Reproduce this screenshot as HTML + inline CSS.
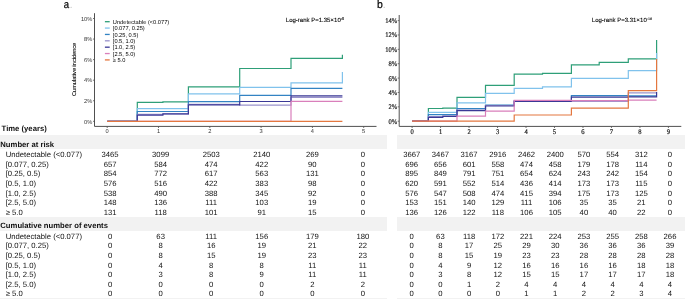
<!DOCTYPE html>
<html><head><meta charset="utf-8"><style>
html,body{margin:0;padding:0;background:#fff;width:685px;height:299px;overflow:hidden}
svg{position:absolute;left:0;top:0;display:block;will-change:transform}
text{font-family:"Liberation Sans",sans-serif;text-rendering:geometricPrecision}
.sf{font-family:"Liberation Serif",serif}
</style></head><body>
<svg width="685" height="299" viewBox="0 0 685 299">

<rect x="0" y="135" width="387" height="14" fill="#f2f2f2"/>
<rect x="397" y="135" width="288" height="14" fill="#f2f2f2"/>
<rect x="0" y="217" width="387" height="14" fill="#f2f2f2"/>
<rect x="397" y="217" width="288" height="14" fill="#f2f2f2"/>
<rect x="0" y="298" width="387" height="1" fill="#f2f2f2"/>
<rect x="397" y="298" width="288" height="1" fill="#f2f2f2"/>
<text transform="translate(63.8,7.9) scale(0.87,1)" font-size="11" fill="#000" stroke="#000" stroke-width="0.2">a</text><circle cx="71.1" cy="7.2" r="0.55" fill="#aaa"/>
<path d="M94.5 13.2V126.4H376.5" fill="none" stroke="#505050" stroke-width="1"/>
<path d="M93.0 121.30H94.5" stroke="#505050" stroke-width="0.8"/>
<text x="92.3" y="123.50" font-size="5.7" text-anchor="end" fill="#333">0%</text>
<path d="M93.0 100.74H94.5" stroke="#505050" stroke-width="0.8"/>
<text x="92.3" y="102.94" font-size="5.7" text-anchor="end" fill="#333">2%</text>
<path d="M93.0 80.18H94.5" stroke="#505050" stroke-width="0.8"/>
<text x="92.3" y="82.38" font-size="5.7" text-anchor="end" fill="#333">4%</text>
<path d="M93.0 59.62H94.5" stroke="#505050" stroke-width="0.8"/>
<text x="92.3" y="61.82" font-size="5.7" text-anchor="end" fill="#333">6%</text>
<path d="M93.0 39.06H94.5" stroke="#505050" stroke-width="0.8"/>
<text x="92.3" y="41.26" font-size="5.7" text-anchor="end" fill="#333">8%</text>
<path d="M93.0 18.50H94.5" stroke="#505050" stroke-width="0.8"/>
<text x="92.3" y="20.70" font-size="5.7" text-anchor="end" fill="#333">10%</text>
<path d="M107.20 126.4V128.0" stroke="#505050" stroke-width="0.8"/>
<text x="107.20" y="133.2" font-size="5.7" text-anchor="middle" fill="#333">0</text>
<path d="M158.50 126.4V128.0" stroke="#505050" stroke-width="0.8"/>
<text x="158.50" y="133.2" font-size="5.7" text-anchor="middle" fill="#333">1</text>
<path d="M209.80 126.4V128.0" stroke="#505050" stroke-width="0.8"/>
<text x="209.80" y="133.2" font-size="5.7" text-anchor="middle" fill="#333">2</text>
<path d="M261.10 126.4V128.0" stroke="#505050" stroke-width="0.8"/>
<text x="261.10" y="133.2" font-size="5.7" text-anchor="middle" fill="#333">3</text>
<path d="M312.40 126.4V128.0" stroke="#505050" stroke-width="0.8"/>
<text x="312.40" y="133.2" font-size="5.7" text-anchor="middle" fill="#333">4</text>
<path d="M363.70 126.4V128.0" stroke="#505050" stroke-width="0.8"/>
<text x="363.70" y="133.2" font-size="5.7" text-anchor="middle" fill="#333">5</text>
<text transform="translate(76,69.4) rotate(-90)" font-size="5.6" text-anchor="middle" fill="#000" stroke="#000" stroke-width="0.08">Cumulative incidence</text>
<text x="285.8" y="21.6" font-size="6.0" fill="#000" stroke="#000" stroke-width="0.1">Log-rank P=1.35<tspan font-size="6.4">×</tspan>10<tspan font-size="3.8" dy="-1.6">-5</tspan></text>
<path d="M104.9 21.70H109.7" stroke="#2e9f78" stroke-width="1.3"/>
<text x="112.8" y="23.80" font-size="5.7" fill="#000">Undetectable (&lt;0.077)</text>
<path d="M104.9 28.07H109.7" stroke="#80c2ec" stroke-width="1.3"/>
<text x="112.8" y="30.17" font-size="5.7" fill="#000">[0.077, 0.25)</text>
<path d="M104.9 34.44H109.7" stroke="#3383c3" stroke-width="1.3"/>
<text x="112.8" y="36.54" font-size="5.7" fill="#000">[0.25, 0.5)</text>
<path d="M104.9 40.81H109.7" stroke="#9a93cc" stroke-width="1.3"/>
<text x="112.8" y="42.91" font-size="5.7" fill="#000">[0.5, 1.0)</text>
<path d="M104.9 47.18H109.7" stroke="#3b3896" stroke-width="1.3"/>
<text x="112.8" y="49.28" font-size="5.7" fill="#000">[1.0, 2.5)</text>
<path d="M104.9 53.55H109.7" stroke="#d97fbb" stroke-width="1.3"/>
<text x="112.8" y="55.65" font-size="5.7" fill="#000">[2.5, 5.0)</text>
<path d="M104.9 59.92H109.7" stroke="#e4773f" stroke-width="1.3"/>
<text x="112.8" y="62.02" font-size="5.7" fill="#000">≥ 5.0</text>
<path d="M107.20 121.30H137.30V102.30H162.90V101.80H188.40V86.80H239.70V68.50H291.00V58.40H342.40V54.80" fill="none" stroke="#2e9f78" stroke-width="1.2" stroke-linejoin="miter"/>
<path d="M107.20 121.30H137.30V108.60H162.90V108.60H188.40V93.90H239.70V87.40H291.00V82.90H342.40V72.00" fill="none" stroke="#80c2ec" stroke-width="1.2" stroke-linejoin="miter"/>
<path d="M107.20 121.30H137.30V111.50H162.90V111.50H188.40V101.60H239.70V95.30H291.00V88.40H342.40V88.40" fill="none" stroke="#3383c3" stroke-width="1.2" stroke-linejoin="miter"/>
<path d="M107.20 121.30H137.30V114.30H162.90V114.00H188.40V104.30H239.70V105.10H291.00V97.30H342.40V97.30" fill="none" stroke="#9a93cc" stroke-width="1.2" stroke-linejoin="miter"/>
<path d="M107.20 121.30H137.30V115.10H162.90V113.80H188.40V104.80H239.70V101.50H291.00V95.90H342.40V95.90" fill="none" stroke="#3b3896" stroke-width="1.2" stroke-linejoin="miter"/>
<path d="M107.20 121.30H137.30V121.30H162.90V121.30H188.40V121.30H239.70V121.30H291.00V101.40H342.40V101.40" fill="none" stroke="#d97fbb" stroke-width="1.2" stroke-linejoin="miter"/>
<path d="M107.20 121.30H137.30V121.30H162.90V121.30H188.40V121.30H239.70V121.30H291.00V121.30H342.40V121.30" fill="none" stroke="#e4773f" stroke-width="1.2" stroke-linejoin="miter"/>
<text transform="translate(376.9,7.9) scale(0.95,1)" font-size="11" fill="#000" stroke="#000" stroke-width="0.2">b</text><circle cx="384.2" cy="7.2" r="0.55" fill="#aaa"/>
<path d="M399.2 15.0V126.4H681.3" fill="none" stroke="#505050" stroke-width="1"/>
<path d="M397.7 121.20H399.2" stroke="#505050" stroke-width="0.8"/>
<text class="sf" transform="translate(397.2,123.65) scale(0.93,1)" font-size="7.05" text-anchor="end" fill="#111" stroke="#111" stroke-width="0.18">0%</text>
<path d="M397.7 106.83H399.2" stroke="#505050" stroke-width="0.8"/>
<text class="sf" transform="translate(397.2,109.28) scale(0.93,1)" font-size="7.05" text-anchor="end" fill="#111" stroke="#111" stroke-width="0.18">2%</text>
<path d="M397.7 92.46H399.2" stroke="#505050" stroke-width="0.8"/>
<text class="sf" transform="translate(397.2,94.91) scale(0.93,1)" font-size="7.05" text-anchor="end" fill="#111" stroke="#111" stroke-width="0.18">4%</text>
<path d="M397.7 78.09H399.2" stroke="#505050" stroke-width="0.8"/>
<text class="sf" transform="translate(397.2,80.54) scale(0.93,1)" font-size="7.05" text-anchor="end" fill="#111" stroke="#111" stroke-width="0.18">6%</text>
<path d="M397.7 63.71H399.2" stroke="#505050" stroke-width="0.8"/>
<text class="sf" transform="translate(397.2,66.16) scale(0.93,1)" font-size="7.05" text-anchor="end" fill="#111" stroke="#111" stroke-width="0.18">8%</text>
<path d="M397.7 49.34H399.2" stroke="#505050" stroke-width="0.8"/>
<text class="sf" transform="translate(397.2,51.79) scale(0.93,1)" font-size="7.05" text-anchor="end" fill="#111" stroke="#111" stroke-width="0.18">10%</text>
<path d="M397.7 34.97H399.2" stroke="#505050" stroke-width="0.8"/>
<text class="sf" transform="translate(397.2,37.42) scale(0.93,1)" font-size="7.05" text-anchor="end" fill="#111" stroke="#111" stroke-width="0.18">12%</text>
<path d="M397.7 20.60H399.2" stroke="#505050" stroke-width="0.8"/>
<text class="sf" transform="translate(397.2,23.05) scale(0.93,1)" font-size="7.05" text-anchor="end" fill="#111" stroke="#111" stroke-width="0.18">14%</text>
<path d="M412.10 126.4V128.0" stroke="#505050" stroke-width="0.8"/>
<text class="sf" transform="translate(412.10,133.6) scale(0.93,1)" font-size="7.05" text-anchor="middle" fill="#111" stroke="#111" stroke-width="0.18">0</text>
<path d="M440.58 126.4V128.0" stroke="#505050" stroke-width="0.8"/>
<text class="sf" transform="translate(440.58,133.6) scale(0.93,1)" font-size="7.05" text-anchor="middle" fill="#111" stroke="#111" stroke-width="0.18">1</text>
<path d="M469.06 126.4V128.0" stroke="#505050" stroke-width="0.8"/>
<text class="sf" transform="translate(469.06,133.6) scale(0.93,1)" font-size="7.05" text-anchor="middle" fill="#111" stroke="#111" stroke-width="0.18">2</text>
<path d="M497.54 126.4V128.0" stroke="#505050" stroke-width="0.8"/>
<text class="sf" transform="translate(497.54,133.6) scale(0.93,1)" font-size="7.05" text-anchor="middle" fill="#111" stroke="#111" stroke-width="0.18">3</text>
<path d="M526.02 126.4V128.0" stroke="#505050" stroke-width="0.8"/>
<text class="sf" transform="translate(526.02,133.6) scale(0.93,1)" font-size="7.05" text-anchor="middle" fill="#111" stroke="#111" stroke-width="0.18">4</text>
<path d="M554.50 126.4V128.0" stroke="#505050" stroke-width="0.8"/>
<text class="sf" transform="translate(554.50,133.6) scale(0.93,1)" font-size="7.05" text-anchor="middle" fill="#111" stroke="#111" stroke-width="0.18">5</text>
<path d="M582.98 126.4V128.0" stroke="#505050" stroke-width="0.8"/>
<text class="sf" transform="translate(582.98,133.6) scale(0.93,1)" font-size="7.05" text-anchor="middle" fill="#111" stroke="#111" stroke-width="0.18">6</text>
<path d="M611.46 126.4V128.0" stroke="#505050" stroke-width="0.8"/>
<text class="sf" transform="translate(611.46,133.6) scale(0.93,1)" font-size="7.05" text-anchor="middle" fill="#111" stroke="#111" stroke-width="0.18">7</text>
<path d="M639.94 126.4V128.0" stroke="#505050" stroke-width="0.8"/>
<text class="sf" transform="translate(639.94,133.6) scale(0.93,1)" font-size="7.05" text-anchor="middle" fill="#111" stroke="#111" stroke-width="0.18">8</text>
<path d="M668.42 126.4V128.0" stroke="#505050" stroke-width="0.8"/>
<text class="sf" transform="translate(668.42,133.6) scale(0.93,1)" font-size="7.05" text-anchor="middle" fill="#111" stroke="#111" stroke-width="0.18">9</text>
<text x="591.8" y="21.8" font-size="6.0" fill="#000" stroke="#000" stroke-width="0.1">Log-rank P=3.31<tspan font-size="6.4">×</tspan>10<tspan font-size="3.6" dy="-2.0">-18</tspan></text>
<path d="M412.10 121.20H428.40V108.50H442.80V108.20H457.00V97.40H485.50V85.40H514.20V74.10H542.50V73.30H571.40V64.80H599.20V62.40H628.30V58.90H656.60V40.10" fill="none" stroke="#2e9f78" stroke-width="1.2" stroke-linejoin="miter"/>
<path d="M412.10 121.20H428.40V112.30H442.80V112.30H457.00V102.80H485.50V93.40H514.20V88.30H542.50V86.90H571.40V78.30H599.20V78.30H628.30V70.60H656.60V53.00" fill="none" stroke="#80c2ec" stroke-width="1.2" stroke-linejoin="miter"/>
<path d="M412.10 121.20H428.40V114.60H442.80V114.60H457.00V108.60H485.50V105.20H514.20V101.00H542.50V101.00H571.40V95.60H599.20V95.60H628.30V95.90H656.60V95.90" fill="none" stroke="#3383c3" stroke-width="1.2" stroke-linejoin="miter"/>
<path d="M412.10 121.20H428.40V116.50H442.80V116.00H457.00V110.00H485.50V105.50H514.20V100.80H542.50V100.80H571.40V101.30H599.20V101.30H628.30V92.90H656.60V92.90" fill="none" stroke="#9a93cc" stroke-width="1.2" stroke-linejoin="miter"/>
<path d="M412.10 121.20H428.40V117.30H442.80V116.40H457.00V110.70H485.50V106.00H514.20V101.40H542.50V101.40H571.40V97.10H599.20V97.10H628.30V96.90H656.60V92.10" fill="none" stroke="#3b3896" stroke-width="1.2" stroke-linejoin="miter"/>
<path d="M412.10 121.20H428.40V121.20H442.80V121.20H457.00V116.20H485.50V111.20H514.20V100.40H542.50V100.40H571.40V100.60H599.20V100.60H628.30V100.20H656.60V100.20" fill="none" stroke="#d97fbb" stroke-width="1.2" stroke-linejoin="miter"/>
<path d="M412.10 121.20H428.40V121.20H442.80V121.20H457.00V121.20H485.50V121.20H514.20V115.00H542.50V115.00H571.40V108.20H599.20V108.20H628.30V90.60H656.60V59.00" fill="none" stroke="#e4773f" stroke-width="1.2" stroke-linejoin="miter"/>
<text x="1.6" y="131.0" font-size="7.7" font-weight="bold" fill="#111">Time (years)</text>
<text x="0.3" y="147.0" font-size="7.7" font-weight="bold" fill="#111">Number at risk</text>
<text x="0.3" y="228.4" font-size="7.7" font-weight="bold" fill="#111">Cumulative number of events</text>
<text x="5.7" y="157.10" font-size="7.7" fill="#111">Undetectable (&lt;0.077)</text>
<text x="110.10" y="157.10" font-size="7.7" text-anchor="middle" fill="#111">3465</text>
<text x="160.65" y="157.10" font-size="7.7" text-anchor="middle" fill="#111">3099</text>
<text x="211.20" y="157.10" font-size="7.7" text-anchor="middle" fill="#111">2503</text>
<text x="261.75" y="157.10" font-size="7.7" text-anchor="middle" fill="#111">2140</text>
<text x="312.30" y="157.10" font-size="7.7" text-anchor="middle" fill="#111">269</text>
<text x="362.85" y="157.10" font-size="7.7" text-anchor="middle" fill="#111">0</text>
<text x="411.70" y="157.10" font-size="7.7" text-anchor="middle" fill="#111">3667</text>
<text x="440.40" y="157.10" font-size="7.7" text-anchor="middle" fill="#111">3467</text>
<text x="469.10" y="157.10" font-size="7.7" text-anchor="middle" fill="#111">3167</text>
<text x="497.80" y="157.10" font-size="7.7" text-anchor="middle" fill="#111">2916</text>
<text x="526.50" y="157.10" font-size="7.7" text-anchor="middle" fill="#111">2462</text>
<text x="555.20" y="157.10" font-size="7.7" text-anchor="middle" fill="#111">2400</text>
<text x="583.90" y="157.10" font-size="7.7" text-anchor="middle" fill="#111">570</text>
<text x="612.60" y="157.10" font-size="7.7" text-anchor="middle" fill="#111">554</text>
<text x="641.30" y="157.10" font-size="7.7" text-anchor="middle" fill="#111">312</text>
<text x="670.00" y="157.10" font-size="7.7" text-anchor="middle" fill="#111">0</text>
<text x="5.7" y="166.73" font-size="7.7" fill="#111">[0.077, 0.25)</text>
<text x="110.10" y="166.73" font-size="7.7" text-anchor="middle" fill="#111">657</text>
<text x="160.65" y="166.73" font-size="7.7" text-anchor="middle" fill="#111">584</text>
<text x="211.20" y="166.73" font-size="7.7" text-anchor="middle" fill="#111">474</text>
<text x="261.75" y="166.73" font-size="7.7" text-anchor="middle" fill="#111">422</text>
<text x="312.30" y="166.73" font-size="7.7" text-anchor="middle" fill="#111">90</text>
<text x="362.85" y="166.73" font-size="7.7" text-anchor="middle" fill="#111">0</text>
<text x="411.70" y="166.73" font-size="7.7" text-anchor="middle" fill="#111">696</text>
<text x="440.40" y="166.73" font-size="7.7" text-anchor="middle" fill="#111">656</text>
<text x="469.10" y="166.73" font-size="7.7" text-anchor="middle" fill="#111">601</text>
<text x="497.80" y="166.73" font-size="7.7" text-anchor="middle" fill="#111">558</text>
<text x="526.50" y="166.73" font-size="7.7" text-anchor="middle" fill="#111">474</text>
<text x="555.20" y="166.73" font-size="7.7" text-anchor="middle" fill="#111">458</text>
<text x="583.90" y="166.73" font-size="7.7" text-anchor="middle" fill="#111">179</text>
<text x="612.60" y="166.73" font-size="7.7" text-anchor="middle" fill="#111">178</text>
<text x="641.30" y="166.73" font-size="7.7" text-anchor="middle" fill="#111">114</text>
<text x="670.00" y="166.73" font-size="7.7" text-anchor="middle" fill="#111">0</text>
<text x="5.7" y="176.36" font-size="7.7" fill="#111">[0.25, 0.5)</text>
<text x="110.10" y="176.36" font-size="7.7" text-anchor="middle" fill="#111">854</text>
<text x="160.65" y="176.36" font-size="7.7" text-anchor="middle" fill="#111">772</text>
<text x="211.20" y="176.36" font-size="7.7" text-anchor="middle" fill="#111">617</text>
<text x="261.75" y="176.36" font-size="7.7" text-anchor="middle" fill="#111">563</text>
<text x="312.30" y="176.36" font-size="7.7" text-anchor="middle" fill="#111">131</text>
<text x="362.85" y="176.36" font-size="7.7" text-anchor="middle" fill="#111">0</text>
<text x="411.70" y="176.36" font-size="7.7" text-anchor="middle" fill="#111">895</text>
<text x="440.40" y="176.36" font-size="7.7" text-anchor="middle" fill="#111">849</text>
<text x="469.10" y="176.36" font-size="7.7" text-anchor="middle" fill="#111">791</text>
<text x="497.80" y="176.36" font-size="7.7" text-anchor="middle" fill="#111">751</text>
<text x="526.50" y="176.36" font-size="7.7" text-anchor="middle" fill="#111">654</text>
<text x="555.20" y="176.36" font-size="7.7" text-anchor="middle" fill="#111">624</text>
<text x="583.90" y="176.36" font-size="7.7" text-anchor="middle" fill="#111">243</text>
<text x="612.60" y="176.36" font-size="7.7" text-anchor="middle" fill="#111">242</text>
<text x="641.30" y="176.36" font-size="7.7" text-anchor="middle" fill="#111">154</text>
<text x="670.00" y="176.36" font-size="7.7" text-anchor="middle" fill="#111">0</text>
<text x="5.7" y="185.99" font-size="7.7" fill="#111">[0.5, 1.0)</text>
<text x="110.10" y="185.99" font-size="7.7" text-anchor="middle" fill="#111">576</text>
<text x="160.65" y="185.99" font-size="7.7" text-anchor="middle" fill="#111">516</text>
<text x="211.20" y="185.99" font-size="7.7" text-anchor="middle" fill="#111">422</text>
<text x="261.75" y="185.99" font-size="7.7" text-anchor="middle" fill="#111">383</text>
<text x="312.30" y="185.99" font-size="7.7" text-anchor="middle" fill="#111">98</text>
<text x="362.85" y="185.99" font-size="7.7" text-anchor="middle" fill="#111">0</text>
<text x="411.70" y="185.99" font-size="7.7" text-anchor="middle" fill="#111">620</text>
<text x="440.40" y="185.99" font-size="7.7" text-anchor="middle" fill="#111">591</text>
<text x="469.10" y="185.99" font-size="7.7" text-anchor="middle" fill="#111">552</text>
<text x="497.80" y="185.99" font-size="7.7" text-anchor="middle" fill="#111">514</text>
<text x="526.50" y="185.99" font-size="7.7" text-anchor="middle" fill="#111">436</text>
<text x="555.20" y="185.99" font-size="7.7" text-anchor="middle" fill="#111">414</text>
<text x="583.90" y="185.99" font-size="7.7" text-anchor="middle" fill="#111">173</text>
<text x="612.60" y="185.99" font-size="7.7" text-anchor="middle" fill="#111">173</text>
<text x="641.30" y="185.99" font-size="7.7" text-anchor="middle" fill="#111">115</text>
<text x="670.00" y="185.99" font-size="7.7" text-anchor="middle" fill="#111">0</text>
<text x="5.7" y="195.62" font-size="7.7" fill="#111">[1.0, 2.5)</text>
<text x="110.10" y="195.62" font-size="7.7" text-anchor="middle" fill="#111">538</text>
<text x="160.65" y="195.62" font-size="7.7" text-anchor="middle" fill="#111">490</text>
<text x="211.20" y="195.62" font-size="7.7" text-anchor="middle" fill="#111">388</text>
<text x="261.75" y="195.62" font-size="7.7" text-anchor="middle" fill="#111">345</text>
<text x="312.30" y="195.62" font-size="7.7" text-anchor="middle" fill="#111">92</text>
<text x="362.85" y="195.62" font-size="7.7" text-anchor="middle" fill="#111">0</text>
<text x="411.70" y="195.62" font-size="7.7" text-anchor="middle" fill="#111">576</text>
<text x="440.40" y="195.62" font-size="7.7" text-anchor="middle" fill="#111">547</text>
<text x="469.10" y="195.62" font-size="7.7" text-anchor="middle" fill="#111">508</text>
<text x="497.80" y="195.62" font-size="7.7" text-anchor="middle" fill="#111">474</text>
<text x="526.50" y="195.62" font-size="7.7" text-anchor="middle" fill="#111">415</text>
<text x="555.20" y="195.62" font-size="7.7" text-anchor="middle" fill="#111">394</text>
<text x="583.90" y="195.62" font-size="7.7" text-anchor="middle" fill="#111">175</text>
<text x="612.60" y="195.62" font-size="7.7" text-anchor="middle" fill="#111">173</text>
<text x="641.30" y="195.62" font-size="7.7" text-anchor="middle" fill="#111">125</text>
<text x="670.00" y="195.62" font-size="7.7" text-anchor="middle" fill="#111">0</text>
<text x="5.7" y="205.25" font-size="7.7" fill="#111">[2.5, 5.0)</text>
<text x="110.10" y="205.25" font-size="7.7" text-anchor="middle" fill="#111">148</text>
<text x="160.65" y="205.25" font-size="7.7" text-anchor="middle" fill="#111">136</text>
<text x="211.20" y="205.25" font-size="7.7" text-anchor="middle" fill="#111">111</text>
<text x="261.75" y="205.25" font-size="7.7" text-anchor="middle" fill="#111">103</text>
<text x="312.30" y="205.25" font-size="7.7" text-anchor="middle" fill="#111">19</text>
<text x="362.85" y="205.25" font-size="7.7" text-anchor="middle" fill="#111">0</text>
<text x="411.70" y="205.25" font-size="7.7" text-anchor="middle" fill="#111">153</text>
<text x="440.40" y="205.25" font-size="7.7" text-anchor="middle" fill="#111">151</text>
<text x="469.10" y="205.25" font-size="7.7" text-anchor="middle" fill="#111">140</text>
<text x="497.80" y="205.25" font-size="7.7" text-anchor="middle" fill="#111">129</text>
<text x="526.50" y="205.25" font-size="7.7" text-anchor="middle" fill="#111">111</text>
<text x="555.20" y="205.25" font-size="7.7" text-anchor="middle" fill="#111">106</text>
<text x="583.90" y="205.25" font-size="7.7" text-anchor="middle" fill="#111">35</text>
<text x="612.60" y="205.25" font-size="7.7" text-anchor="middle" fill="#111">35</text>
<text x="641.30" y="205.25" font-size="7.7" text-anchor="middle" fill="#111">21</text>
<text x="670.00" y="205.25" font-size="7.7" text-anchor="middle" fill="#111">0</text>
<text x="5.7" y="214.88" font-size="7.7" fill="#111">≥ 5.0</text>
<text x="110.10" y="214.88" font-size="7.7" text-anchor="middle" fill="#111">131</text>
<text x="160.65" y="214.88" font-size="7.7" text-anchor="middle" fill="#111">118</text>
<text x="211.20" y="214.88" font-size="7.7" text-anchor="middle" fill="#111">101</text>
<text x="261.75" y="214.88" font-size="7.7" text-anchor="middle" fill="#111">91</text>
<text x="312.30" y="214.88" font-size="7.7" text-anchor="middle" fill="#111">15</text>
<text x="362.85" y="214.88" font-size="7.7" text-anchor="middle" fill="#111">0</text>
<text x="411.70" y="214.88" font-size="7.7" text-anchor="middle" fill="#111">136</text>
<text x="440.40" y="214.88" font-size="7.7" text-anchor="middle" fill="#111">126</text>
<text x="469.10" y="214.88" font-size="7.7" text-anchor="middle" fill="#111">122</text>
<text x="497.80" y="214.88" font-size="7.7" text-anchor="middle" fill="#111">118</text>
<text x="526.50" y="214.88" font-size="7.7" text-anchor="middle" fill="#111">106</text>
<text x="555.20" y="214.88" font-size="7.7" text-anchor="middle" fill="#111">105</text>
<text x="583.90" y="214.88" font-size="7.7" text-anchor="middle" fill="#111">40</text>
<text x="612.60" y="214.88" font-size="7.7" text-anchor="middle" fill="#111">40</text>
<text x="641.30" y="214.88" font-size="7.7" text-anchor="middle" fill="#111">22</text>
<text x="670.00" y="214.88" font-size="7.7" text-anchor="middle" fill="#111">0</text>
<text x="5.7" y="238.70" font-size="7.7" fill="#111">Undetectable (&lt;0.077)</text>
<text x="110.10" y="238.70" font-size="7.7" text-anchor="middle" fill="#111">0</text>
<text x="160.65" y="238.70" font-size="7.7" text-anchor="middle" fill="#111">63</text>
<text x="211.20" y="238.70" font-size="7.7" text-anchor="middle" fill="#111">111</text>
<text x="261.75" y="238.70" font-size="7.7" text-anchor="middle" fill="#111">156</text>
<text x="312.30" y="238.70" font-size="7.7" text-anchor="middle" fill="#111">179</text>
<text x="362.85" y="238.70" font-size="7.7" text-anchor="middle" fill="#111">180</text>
<text x="411.70" y="238.70" font-size="7.7" text-anchor="middle" fill="#111">0</text>
<text x="440.40" y="238.70" font-size="7.7" text-anchor="middle" fill="#111">63</text>
<text x="469.10" y="238.70" font-size="7.7" text-anchor="middle" fill="#111">118</text>
<text x="497.80" y="238.70" font-size="7.7" text-anchor="middle" fill="#111">172</text>
<text x="526.50" y="238.70" font-size="7.7" text-anchor="middle" fill="#111">221</text>
<text x="555.20" y="238.70" font-size="7.7" text-anchor="middle" fill="#111">224</text>
<text x="583.90" y="238.70" font-size="7.7" text-anchor="middle" fill="#111">253</text>
<text x="612.60" y="238.70" font-size="7.7" text-anchor="middle" fill="#111">255</text>
<text x="641.30" y="238.70" font-size="7.7" text-anchor="middle" fill="#111">258</text>
<text x="670.00" y="238.70" font-size="7.7" text-anchor="middle" fill="#111">266</text>
<text x="5.7" y="248.30" font-size="7.7" fill="#111">[0.077, 0.25)</text>
<text x="110.10" y="248.30" font-size="7.7" text-anchor="middle" fill="#111">0</text>
<text x="160.65" y="248.30" font-size="7.7" text-anchor="middle" fill="#111">8</text>
<text x="211.20" y="248.30" font-size="7.7" text-anchor="middle" fill="#111">16</text>
<text x="261.75" y="248.30" font-size="7.7" text-anchor="middle" fill="#111">19</text>
<text x="312.30" y="248.30" font-size="7.7" text-anchor="middle" fill="#111">21</text>
<text x="362.85" y="248.30" font-size="7.7" text-anchor="middle" fill="#111">22</text>
<text x="411.70" y="248.30" font-size="7.7" text-anchor="middle" fill="#111">0</text>
<text x="440.40" y="248.30" font-size="7.7" text-anchor="middle" fill="#111">8</text>
<text x="469.10" y="248.30" font-size="7.7" text-anchor="middle" fill="#111">17</text>
<text x="497.80" y="248.30" font-size="7.7" text-anchor="middle" fill="#111">25</text>
<text x="526.50" y="248.30" font-size="7.7" text-anchor="middle" fill="#111">29</text>
<text x="555.20" y="248.30" font-size="7.7" text-anchor="middle" fill="#111">30</text>
<text x="583.90" y="248.30" font-size="7.7" text-anchor="middle" fill="#111">36</text>
<text x="612.60" y="248.30" font-size="7.7" text-anchor="middle" fill="#111">36</text>
<text x="641.30" y="248.30" font-size="7.7" text-anchor="middle" fill="#111">36</text>
<text x="670.00" y="248.30" font-size="7.7" text-anchor="middle" fill="#111">39</text>
<text x="5.7" y="257.90" font-size="7.7" fill="#111">[0.25, 0.5)</text>
<text x="110.10" y="257.90" font-size="7.7" text-anchor="middle" fill="#111">0</text>
<text x="160.65" y="257.90" font-size="7.7" text-anchor="middle" fill="#111">8</text>
<text x="211.20" y="257.90" font-size="7.7" text-anchor="middle" fill="#111">15</text>
<text x="261.75" y="257.90" font-size="7.7" text-anchor="middle" fill="#111">19</text>
<text x="312.30" y="257.90" font-size="7.7" text-anchor="middle" fill="#111">23</text>
<text x="362.85" y="257.90" font-size="7.7" text-anchor="middle" fill="#111">23</text>
<text x="411.70" y="257.90" font-size="7.7" text-anchor="middle" fill="#111">0</text>
<text x="440.40" y="257.90" font-size="7.7" text-anchor="middle" fill="#111">8</text>
<text x="469.10" y="257.90" font-size="7.7" text-anchor="middle" fill="#111">15</text>
<text x="497.80" y="257.90" font-size="7.7" text-anchor="middle" fill="#111">19</text>
<text x="526.50" y="257.90" font-size="7.7" text-anchor="middle" fill="#111">23</text>
<text x="555.20" y="257.90" font-size="7.7" text-anchor="middle" fill="#111">23</text>
<text x="583.90" y="257.90" font-size="7.7" text-anchor="middle" fill="#111">28</text>
<text x="612.60" y="257.90" font-size="7.7" text-anchor="middle" fill="#111">28</text>
<text x="641.30" y="257.90" font-size="7.7" text-anchor="middle" fill="#111">28</text>
<text x="670.00" y="257.90" font-size="7.7" text-anchor="middle" fill="#111">28</text>
<text x="5.7" y="267.50" font-size="7.7" fill="#111">[0.5, 1.0)</text>
<text x="110.10" y="267.50" font-size="7.7" text-anchor="middle" fill="#111">0</text>
<text x="160.65" y="267.50" font-size="7.7" text-anchor="middle" fill="#111">4</text>
<text x="211.20" y="267.50" font-size="7.7" text-anchor="middle" fill="#111">8</text>
<text x="261.75" y="267.50" font-size="7.7" text-anchor="middle" fill="#111">8</text>
<text x="312.30" y="267.50" font-size="7.7" text-anchor="middle" fill="#111">11</text>
<text x="362.85" y="267.50" font-size="7.7" text-anchor="middle" fill="#111">11</text>
<text x="411.70" y="267.50" font-size="7.7" text-anchor="middle" fill="#111">0</text>
<text x="440.40" y="267.50" font-size="7.7" text-anchor="middle" fill="#111">4</text>
<text x="469.10" y="267.50" font-size="7.7" text-anchor="middle" fill="#111">9</text>
<text x="497.80" y="267.50" font-size="7.7" text-anchor="middle" fill="#111">12</text>
<text x="526.50" y="267.50" font-size="7.7" text-anchor="middle" fill="#111">16</text>
<text x="555.20" y="267.50" font-size="7.7" text-anchor="middle" fill="#111">16</text>
<text x="583.90" y="267.50" font-size="7.7" text-anchor="middle" fill="#111">16</text>
<text x="612.60" y="267.50" font-size="7.7" text-anchor="middle" fill="#111">16</text>
<text x="641.30" y="267.50" font-size="7.7" text-anchor="middle" fill="#111">18</text>
<text x="670.00" y="267.50" font-size="7.7" text-anchor="middle" fill="#111">18</text>
<text x="5.7" y="277.10" font-size="7.7" fill="#111">[1.0, 2.5)</text>
<text x="110.10" y="277.10" font-size="7.7" text-anchor="middle" fill="#111">0</text>
<text x="160.65" y="277.10" font-size="7.7" text-anchor="middle" fill="#111">3</text>
<text x="211.20" y="277.10" font-size="7.7" text-anchor="middle" fill="#111">8</text>
<text x="261.75" y="277.10" font-size="7.7" text-anchor="middle" fill="#111">9</text>
<text x="312.30" y="277.10" font-size="7.7" text-anchor="middle" fill="#111">11</text>
<text x="362.85" y="277.10" font-size="7.7" text-anchor="middle" fill="#111">11</text>
<text x="411.70" y="277.10" font-size="7.7" text-anchor="middle" fill="#111">0</text>
<text x="440.40" y="277.10" font-size="7.7" text-anchor="middle" fill="#111">3</text>
<text x="469.10" y="277.10" font-size="7.7" text-anchor="middle" fill="#111">8</text>
<text x="497.80" y="277.10" font-size="7.7" text-anchor="middle" fill="#111">12</text>
<text x="526.50" y="277.10" font-size="7.7" text-anchor="middle" fill="#111">15</text>
<text x="555.20" y="277.10" font-size="7.7" text-anchor="middle" fill="#111">15</text>
<text x="583.90" y="277.10" font-size="7.7" text-anchor="middle" fill="#111">17</text>
<text x="612.60" y="277.10" font-size="7.7" text-anchor="middle" fill="#111">17</text>
<text x="641.30" y="277.10" font-size="7.7" text-anchor="middle" fill="#111">17</text>
<text x="670.00" y="277.10" font-size="7.7" text-anchor="middle" fill="#111">18</text>
<text x="5.7" y="286.70" font-size="7.7" fill="#111">[2.5, 5.0)</text>
<text x="110.10" y="286.70" font-size="7.7" text-anchor="middle" fill="#111">0</text>
<text x="160.65" y="286.70" font-size="7.7" text-anchor="middle" fill="#111">0</text>
<text x="211.20" y="286.70" font-size="7.7" text-anchor="middle" fill="#111">0</text>
<text x="261.75" y="286.70" font-size="7.7" text-anchor="middle" fill="#111">0</text>
<text x="312.30" y="286.70" font-size="7.7" text-anchor="middle" fill="#111">2</text>
<text x="362.85" y="286.70" font-size="7.7" text-anchor="middle" fill="#111">2</text>
<text x="411.70" y="286.70" font-size="7.7" text-anchor="middle" fill="#111">0</text>
<text x="440.40" y="286.70" font-size="7.7" text-anchor="middle" fill="#111">0</text>
<text x="469.10" y="286.70" font-size="7.7" text-anchor="middle" fill="#111">1</text>
<text x="497.80" y="286.70" font-size="7.7" text-anchor="middle" fill="#111">2</text>
<text x="526.50" y="286.70" font-size="7.7" text-anchor="middle" fill="#111">4</text>
<text x="555.20" y="286.70" font-size="7.7" text-anchor="middle" fill="#111">4</text>
<text x="583.90" y="286.70" font-size="7.7" text-anchor="middle" fill="#111">4</text>
<text x="612.60" y="286.70" font-size="7.7" text-anchor="middle" fill="#111">4</text>
<text x="641.30" y="286.70" font-size="7.7" text-anchor="middle" fill="#111">4</text>
<text x="670.00" y="286.70" font-size="7.7" text-anchor="middle" fill="#111">4</text>
<text x="5.7" y="296.30" font-size="7.7" fill="#111">≥ 5.0</text>
<text x="110.10" y="296.30" font-size="7.7" text-anchor="middle" fill="#111">0</text>
<text x="160.65" y="296.30" font-size="7.7" text-anchor="middle" fill="#111">0</text>
<text x="211.20" y="296.30" font-size="7.7" text-anchor="middle" fill="#111">0</text>
<text x="261.75" y="296.30" font-size="7.7" text-anchor="middle" fill="#111">0</text>
<text x="312.30" y="296.30" font-size="7.7" text-anchor="middle" fill="#111">0</text>
<text x="362.85" y="296.30" font-size="7.7" text-anchor="middle" fill="#111">0</text>
<text x="411.70" y="296.30" font-size="7.7" text-anchor="middle" fill="#111">0</text>
<text x="440.40" y="296.30" font-size="7.7" text-anchor="middle" fill="#111">0</text>
<text x="469.10" y="296.30" font-size="7.7" text-anchor="middle" fill="#111">0</text>
<text x="497.80" y="296.30" font-size="7.7" text-anchor="middle" fill="#111">0</text>
<text x="526.50" y="296.30" font-size="7.7" text-anchor="middle" fill="#111">1</text>
<text x="555.20" y="296.30" font-size="7.7" text-anchor="middle" fill="#111">1</text>
<text x="583.90" y="296.30" font-size="7.7" text-anchor="middle" fill="#111">2</text>
<text x="612.60" y="296.30" font-size="7.7" text-anchor="middle" fill="#111">2</text>
<text x="641.30" y="296.30" font-size="7.7" text-anchor="middle" fill="#111">3</text>
<text x="670.00" y="296.30" font-size="7.7" text-anchor="middle" fill="#111">4</text>
</svg></body></html>
